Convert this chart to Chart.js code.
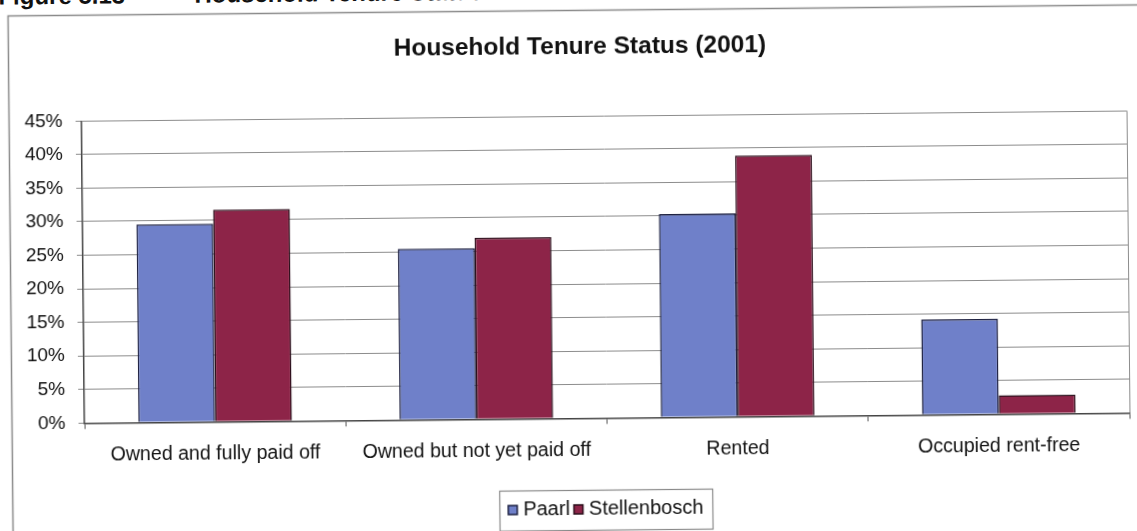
<!DOCTYPE html>
<html>
<head>
<meta charset="utf-8">
<script src="https://cdn.jsdelivr.net/npm/chart.js@4/dist/chart.umd.min.js"></script>
<style>
  html, body { margin: 0; padding: 0; background: #fff; overflow: hidden; width: 1137px; height: 531px; }
  #sheet { position: absolute; left: 0; top: 0; width: 1160px; height: 560px;
           transform: rotate(-0.56deg); transform-origin: 568px 265px; }
  #caption { position: absolute; left: 1px; top: -21px; height: 24px; width: 600px;
             font: bold 24px 'Liberation Sans', Arial, sans-serif; line-height: 24px; color: #111; white-space: pre; }
  #caption span { position: absolute; top: 0; }
  canvas { position: absolute; left: 0; top: 0; }
</style>
</head>
<body>
<div id="sheet">
  <div id="caption"><span style="left:0">Figure 5.13</span><span style="left:196px">Household Tenure Status</span></div>
  <canvas id="c" width="1160" height="560"></canvas>
</div>
<script>
// Household tenure shares, 2001 census (percent of households)
const categories = ['Owned and fully paid off', 'Owned but not yet paid off', 'Rented', 'Occupied rent-free'];
const paarl = [29.5, 25.5, 30.3, 14.2];
const stellenbosch = [31.6, 27.0, 38.9, 2.8];
const seriesNames = ['Paarl', 'Stellenbosch'];
const yMax = 45;
const yStep = 5;

const FONT = "'Liberation Sans', Arial, sans-serif";
const TITLE_CENTER_X = 582;

// Grey frame round the whole chart and a border on the plot area's right side
const framePlugin = {
  id: 'frame',
  afterLayout(chart) {
    // centre the title over the whole frame rather than the padded box
    const t = chart.titleBlock;
    if (t) {
      const shift = TITLE_CENTER_X - (t.left + t.right) / 2;
      t.left += shift;
      t.right += shift;
    }
  },
  beforeDraw(chart) {
    const ctx = chart.ctx;
    ctx.save();
    ctx.strokeStyle = '#8a8a8a';
    ctx.lineWidth = 1.5;
    ctx.strokeRect(10.5, 10.5, 1400, 800);
    ctx.restore();
  },
  beforeDatasetsDraw(chart) {
    const {ctx, chartArea} = chart;
    ctx.save();
    ctx.strokeStyle = '#8c8c8c';
    ctx.lineWidth = 1;
    ctx.beginPath();
    ctx.moveTo(chartArea.right + 0.5, chartArea.top);
    ctx.lineTo(chartArea.right + 0.5, chartArea.bottom);
    ctx.stroke();
    ctx.restore();
  }
};

// Thin box drawn round the legend entries
const legendBoxPlugin = {
  id: 'legendBox',
  afterDraw(chart) {
    const lg = chart.legend;
    if (!lg || !lg.legendHitBoxes || !lg.legendHitBoxes.length) return;
    const hb = lg.legendHitBoxes;
    const left = Math.min(...hb.map(h => h.left)) - 4.5 - 8;
    const right = Math.max(...hb.map(h => h.left + h.width)) + 9;
    const mid = hb[0].top + hb[0].height / 2;
    const ctx = chart.ctx;
    ctx.save();
    ctx.strokeStyle = '#8a8a8a';
    ctx.lineWidth = 1.2;
    ctx.strokeRect(Math.round(left) + 0.5, Math.round(mid - 20) + 0.5, Math.round(right - left), 40);
    ctx.restore();
  }
};

new Chart(document.getElementById('c'), {
  type: 'bar',
  data: {
    labels: categories,
    datasets: [
      { label: seriesNames[0], data: paarl, backgroundColor: '#6f80c9', borderColor: '#1d2040', borderWidth: 1.5 },
      { label: seriesNames[1], data: stellenbosch, backgroundColor: '#8d2448', borderColor: '#2b0f1b', borderWidth: 1.5 }
    ]
  },
  options: {
    responsive: false,
    animation: false,
    devicePixelRatio: 1,
    datasets: { bar: { categoryPercentage: 0.588, barPercentage: 1.0 } },
    layout: { padding: { left: 10, right: 32, top: 0, bottom: 30.5 } },
    plugins: {
      title: {
        display: true,
        text: 'Household Tenure Status (2001)',
        color: '#111',
        font: { family: FONT, size: 24.5, weight: 'bold' },
        padding: { top: 32.8, bottom: 54.1 }
      },
      legend: {
        position: 'bottom',
        fullSize: false,
        labels: {
          usePointStyle: true,
          pointStyle: 'rect',
          boxWidth: 1,
          boxHeight: 9,
          padding: 8,
          color: '#111',
          font: { family: FONT, size: 20 }
        }
      },
      tooltip: { enabled: false }
    },
    scales: {
      x: {
        grid: { display: true, drawOnChartArea: false, drawTicks: true, tickLength: 6, color: '#555', offset: true },
        border: { display: true, color: '#444', width: 1.5 },
        ticks: { color: '#111', font: { family: FONT, size: 19.6 }, padding: 15, maxRotation: 0, autoSkip: false },
        afterFit(scale) { scale.height = 73.2; }
      },
      y: {
        min: 0,
        max: yMax,
        grid: { color: '#8c8c8c', lineWidth: 1, tickLength: 6 },
        border: { display: true, color: '#444', width: 1.5 },
        ticks: {
          stepSize: yStep,
          color: '#111',
          padding: 13,
          font: { family: FONT, size: 19 },
          callback: v => v + '%'
        },
        afterFit(scale) { scale.width = 73; }
      }
    }
  },
  plugins: [framePlugin, legendBoxPlugin]
});
</script>
</body>
</html>
